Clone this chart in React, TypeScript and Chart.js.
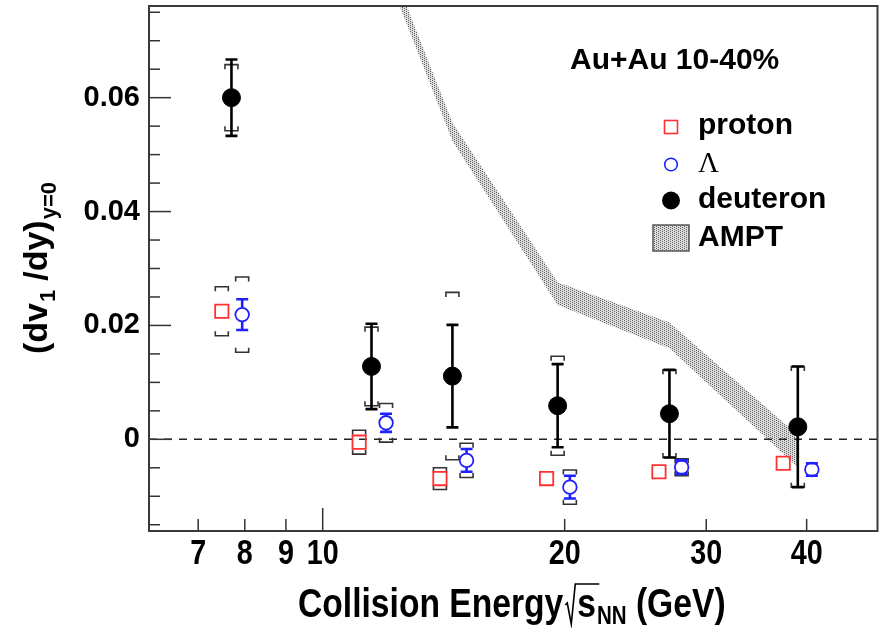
import { useEffect, useRef } from "react";
import { Chart, registerables } from "chart.js";

Chart.register(...registerables);

// Directed flow slope dv1/dy at mid-rapidity, Au+Au 10-40%
const protonEnergy = [7.49, 11.1, 13.99, 18.99, 26.2, 37.4];
const protonV1 = [0.0225, -0.0005, -0.0069, -0.0069, -0.0057, -0.0042];
const protonSys = [0.0043, 0.0021, 0.0019, 0, 0, 0];

const lambdaEnergy = [7.94, 11.99, 15.1, 20.3, 27.96, 40.6];
const lambdaV1 = [0.0219, 0.0029, -0.0037, -0.0084, -0.0049, -0.0053];
const lambdaStat = [0.0027, 0.0016, 0.002, 0.002, 0.0012, 0.0011];
const lambdaSys = [0.0066, 0.0034, 0.003, 0.003, 0.0015, 0];

const deuteronEnergy = [7.7, 11.5, 14.5, 19.6, 27.0, 39.0];
const deuteronV1 = [0.06, 0.0128, 0.0111, 0.0059, 0.0045, 0.0022];
const deuteronStat = [0.0067, 0.0075, 0.009, 0.0073, 0.0077, 0.0106];
const deuteronSys = [0.0058, 0.0069, 0.0147, 0.0087, 0.0077, 0.0106];

// AMPT model band (upper / lower edge)
const amptEnergy = [11.5, 14.5, 19.6, 27.0, 39.0];
const amptUpper = [0.0918, 0.0556, 0.0276, 0.0205, 0.0007];
const amptLower = [0.0888, 0.0524, 0.0236, 0.016, -0.0049];

// Axis ticks
const xTickValues = [7, 8, 9, 10, 20, 30, 40];
const xMajorTicks = [10];
const yLabelValues = [0, 0.02, 0.04, 0.06];
const yTickMarks = [
  -0.015, -0.01, -0.005, 0, 0.005, 0.01, 0.015, 0.02, 0.025, 0.03, 0.035,
  0.04, 0.045, 0.05, 0.055, 0.06, 0.065, 0.07, 0.075,
];

const SANS = "'Liberation Sans', Arial, Helvetica, sans-serif";
const SERIF = "'Liberation Serif', 'Times New Roman', serif";
const RED = "#ff3030";
const BLUE = "#1f1fff";

function makeStipple(): CanvasPattern | string {
  const c = document.createElement("canvas");
  c.width = 4;
  c.height = 2;
  const g = c.getContext("2d");
  if (!g) return "#bcbcbc";
  g.fillStyle = "#dddddd";
  g.fillRect(0, 0, 4, 2);
  g.fillStyle = "#626262";
  g.fillRect(0, 0, 1, 1);
  g.fillRect(2, 1, 1, 1);
  const p = g.createPattern(c, "repeat");
  return p || "#bcbcbc";
}

function drawText(
  ctx: CanvasRenderingContext2D,
  text: string,
  x: number,
  y: number,
  font: string,
  sx = 1,
  align: CanvasTextAlign = "left"
): number {
  ctx.save();
  ctx.font = font;
  ctx.translate(x, y);
  ctx.scale(sx, 1);
  ctx.textAlign = align;
  ctx.textBaseline = "alphabetic";
  ctx.fillStyle = "#000";
  ctx.fillText(text, 0, 0);
  const w = ctx.measureText(text).width * sx;
  ctx.restore();
  return w;
}

function line(ctx: CanvasRenderingContext2D, x1: number, y1: number, x2: number, y2: number) {
  ctx.beginPath();
  ctx.moveTo(x1, y1);
  ctx.lineTo(x2, y2);
  ctx.stroke();
}

function sysBrackets(ctx: CanvasRenderingContext2D, x: number, yTop: number, yBot: number) {
  const hw = 6.5;
  const leg = 4.5;
  ctx.save();
  ctx.strokeStyle = "#333";
  ctx.lineWidth = 1.6;
  ctx.beginPath();
  ctx.moveTo(x - hw, yTop + leg);
  ctx.lineTo(x - hw, yTop);
  ctx.lineTo(x + hw, yTop);
  ctx.lineTo(x + hw, yTop + leg);
  ctx.moveTo(x - hw, yBot - leg);
  ctx.lineTo(x - hw, yBot);
  ctx.lineTo(x + hw, yBot);
  ctx.lineTo(x + hw, yBot - leg);
  ctx.stroke();
  ctx.restore();
}

function statBar(
  ctx: CanvasRenderingContext2D,
  x: number,
  yc: number,
  yTop: number,
  yBot: number,
  color: string,
  gap: number
) {
  const hw = 6;
  ctx.save();
  ctx.strokeStyle = color;
  ctx.lineWidth = 2.6;
  if (yc - gap > yTop) line(ctx, x, yTop, x, yc - gap);
  if (yc + gap < yBot) line(ctx, x, yc + gap, x, yBot);
  line(ctx, x - hw, yTop, x + hw, yTop);
  line(ctx, x - hw, yBot, x + hw, yBot);
  ctx.restore();
}

function noPadding(s: any) {
  s.paddingTop = 0;
  s.paddingBottom = 0;
  s.paddingLeft = 0;
  s.paddingRight = 0;
}

export default function App() {
  const ref = useRef<HTMLCanvasElement>(null);

  useEffect(() => {
    const canvas = ref.current;
    if (!canvas) return;
    const stipple = makeStipple();

    const overlay = {
      id: "overlay",
      afterDatasetDraw(chart: any, args: any) {
        if (args.index !== 1) return;
        const { ctx, chartArea: a, scales } = chart;
        const xs = scales.x;
        const ys = scales.y;
        ctx.save();
        ctx.beginPath();
        ctx.rect(a.left, a.top, a.right - a.left, a.bottom - a.top);
        ctx.clip();

        // zero line
        ctx.strokeStyle = "#222";
        ctx.lineWidth = 1.5;
        ctx.setLineDash([8, 7]);
        const y0 = ys.getPixelForValue(0);
        line(ctx, a.left, y0, a.right, y0);
        ctx.setLineDash([]);

        // systematic brackets
        protonEnergy.forEach((e, i) => {
          if (!protonSys[i]) return;
          sysBrackets(ctx, xs.getPixelForValue(e), ys.getPixelForValue(protonV1[i] + protonSys[i]), ys.getPixelForValue(protonV1[i] - protonSys[i]));
        });
        lambdaEnergy.forEach((e, i) => {
          if (!lambdaSys[i]) return;
          sysBrackets(ctx, xs.getPixelForValue(e), ys.getPixelForValue(lambdaV1[i] + lambdaSys[i]), ys.getPixelForValue(lambdaV1[i] - lambdaSys[i]));
        });
        deuteronEnergy.forEach((e, i) => {
          if (!deuteronSys[i]) return;
          sysBrackets(ctx, xs.getPixelForValue(e), ys.getPixelForValue(deuteronV1[i] + deuteronSys[i]), ys.getPixelForValue(deuteronV1[i] - deuteronSys[i]));
        });

        // statistical bars
        lambdaEnergy.forEach((e, i) => {
          statBar(ctx, xs.getPixelForValue(e), ys.getPixelForValue(lambdaV1[i]), ys.getPixelForValue(lambdaV1[i] + lambdaStat[i]), ys.getPixelForValue(lambdaV1[i] - lambdaStat[i]), BLUE, 7);
        });
        deuteronEnergy.forEach((e, i) => {
          statBar(ctx, xs.getPixelForValue(e), ys.getPixelForValue(deuteronV1[i]), ys.getPixelForValue(deuteronV1[i] + deuteronStat[i]), ys.getPixelForValue(deuteronV1[i] - deuteronStat[i]), "#000", 0);
        });
        ctx.restore();
      },
      afterDraw(chart: any) {
        const { ctx, chartArea: a, scales } = chart;
        const xs = scales.x;
        const ys = scales.y;
        ctx.save();

        // inward tick marks
        ctx.strokeStyle = "#333";
        ctx.lineWidth = 1.5;
        yTickMarks.forEach((v) => {
          const py = ys.getPixelForValue(v);
          const major = yLabelValues.some((l) => Math.abs(l - v) < 1e-9);
          line(ctx, a.left, py, a.left + (major ? 22 : 11), py);
        });
        xTickValues.forEach((v) => {
          const px = xs.getPixelForValue(v);
          const major = xMajorTicks.includes(v);
          line(ctx, px, a.bottom, px, a.bottom - (major ? 23 : 12));
        });

        // frame
        ctx.strokeStyle = "#3a3a3a";
        ctx.lineWidth = 2;
        ctx.strokeRect(a.left, a.top, a.right - a.left, a.bottom - a.top);

        // x tick labels
        xTickValues.forEach((v) => {
          drawText(ctx, String(v), xs.getPixelForValue(v), 564, `bold 35px ${SANS}`, 0.82, "center");
        });

        // x title
        const tf = `bold 41px ${SANS}`;
        const sf = `bold 25px ${SANS}`;
        const base = 617;
        let cx = 298;
        cx += drawText(ctx, "Collision Energy", cx, base, tf, 0.82);
        const rootTop = base - 33;
        ctx.strokeStyle = "#000";
        ctx.lineWidth = 1.6;
        ctx.beginPath();
        ctx.moveTo(cx + 2, base - 12);
        ctx.lineTo(cx + 4, base - 14);
        ctx.lineTo(cx + 8, base + 7);
        ctx.lineTo(cx + 12, rootTop);
        const sw = 20;
        ctx.lineTo(cx + 14 + sw + 2, rootTop);
        ctx.stroke();
        cx += 14;
        cx += drawText(ctx, "s", cx, base, tf, 0.82);
        cx += 1;
        cx += drawText(ctx, "NN", cx, base + 7, sf, 0.82);
        drawText(ctx, " (GeV)", cx, base, tf, 0.82);

        // y title
        ctx.save();
        ctx.translate(47, 354);
        ctx.rotate(-Math.PI / 2);
        const yf = `bold 34px ${SANS}`;
        const ysf = `bold 22px ${SANS}`;
        let ty = 0;
        ty += drawText(ctx, "(dv", ty, 0, yf);
        ty += 1;
        ty += drawText(ctx, "1", ty, 8, ysf);
        ty += 9;
        ty += drawText(ctx, "/dy)", ty, 0, yf);
        ty += 1;
        drawText(ctx, "y=0", ty, 9, ysf);
        ctx.restore();

        // legend
        drawText(ctx, "Au+Au 10-40%", 570, 69, `bold 30px ${SANS}`);
        const lx = 671;
        const tx = 698;
        ctx.strokeStyle = RED;
        ctx.lineWidth = 1.6;
        ctx.strokeRect(lx - 6.5, 127 - 6.5, 13, 13);
        drawText(ctx, "proton", tx, 134, `bold 30px ${SANS}`);
        ctx.strokeStyle = BLUE;
        ctx.beginPath();
        ctx.arc(lx, 164.5, 6.3, 0, Math.PI * 2);
        ctx.stroke();
        drawText(ctx, "Λ", tx, 172, `29px ${SERIF}`);
        ctx.fillStyle = "#000";
        ctx.beginPath();
        ctx.arc(lx, 200.5, 9, 0, Math.PI * 2);
        ctx.fill();
        drawText(ctx, "deuteron", tx, 208, `bold 30px ${SANS}`);
        ctx.fillStyle = stipple as any;
        ctx.fillRect(653, 225, 36, 26);
        ctx.strokeStyle = "#555";
        ctx.lineWidth = 1.5;
        ctx.strokeRect(653, 225, 36, 26);
        drawText(ctx, "AMPT", tx, 246, `bold 30px ${SANS}`);

        ctx.restore();
      },
    };

    const chart = new Chart(canvas, {
      type: "scatter",
      data: {
        datasets: [
          {
            label: "AMPT upper",
            data: amptEnergy.map((e, i) => ({ x: e, y: amptUpper[i] })),
            showLine: true,
            borderColor: "rgba(0,0,0,0)",
            borderWidth: 0,
            pointRadius: 0,
            fill: false,
            order: 3,
          },
          {
            label: "AMPT",
            data: amptEnergy.map((e, i) => ({ x: e, y: amptLower[i] })),
            showLine: true,
            borderColor: "rgba(0,0,0,0)",
            borderWidth: 0,
            pointRadius: 0,
            backgroundColor: stipple as any,
            fill: "-1",
            order: 2,
          },
          {
            label: "proton",
            data: protonEnergy.map((e, i) => ({ x: e, y: protonV1[i] })),
            pointStyle: "rect",
            pointRadius: 9.4,
            borderWidth: 1.8,
            borderColor: RED,
            backgroundColor: "rgba(0,0,0,0)",
            order: 0,
          },
          {
            label: "Λ",
            data: lambdaEnergy.map((e, i) => ({ x: e, y: lambdaV1[i] })),
            pointStyle: "circle",
            pointRadius: 6.8,
            borderWidth: 1.8,
            borderColor: BLUE,
            backgroundColor: "rgba(0,0,0,0)",
            order: 0,
          },
          {
            label: "deuteron",
            data: deuteronEnergy.map((e, i) => ({ x: e, y: deuteronV1[i] })),
            pointStyle: "circle",
            pointRadius: 9,
            borderWidth: 1,
            borderColor: "#000",
            backgroundColor: "#000",
            order: 0,
          },
        ],
      },
      options: {
        responsive: false,
        animation: false,
        events: [],
        layout: { autoPadding: false, padding: { left: 0, top: 6, right: 4.5, bottom: 0 } },
        plugins: { legend: { display: false }, tooltip: { enabled: false } },
        scales: {
          x: {
            type: "logarithmic",
            min: 6.08,
            max: 49,
            grid: { display: false, drawTicks: false },
            border: { display: false },
            ticks: { display: false },
            afterBuildTicks: (s: any) => {
              s.ticks = xTickValues.map((v) => ({ value: v }));
            },
            afterFit: (s: any) => {
              s.height = 97;
              noPadding(s);
            },
          },
          y: {
            type: "linear",
            min: -0.0161,
            max: 0.0761,
            grid: { display: false, drawTicks: false },
            border: { display: false },
            ticks: {
              padding: 9,
              color: "#000",
              font: { family: SANS, size: 29, weight: "bold" },
              callback: (v: any) => (Number(v) === 0 ? "0" : Number(v).toFixed(2)),
            },
            afterBuildTicks: (s: any) => {
              s.ticks = yLabelValues.map((v) => ({ value: v }));
            },
            afterFit: (s: any) => {
              s.width = 149;
              noPadding(s);
            },
          },
        },
      } as any,
      plugins: [overlay],
    });

    return () => chart.destroy();
  }, []);

  return (
    <div style={{ position: "absolute", left: 0, top: 0, width: 882, height: 628, background: "#fff" }}>
      <canvas ref={ref} width={882} height={628} style={{ display: "block", width: 882, height: 628 }} />
    </div>
  );
}
